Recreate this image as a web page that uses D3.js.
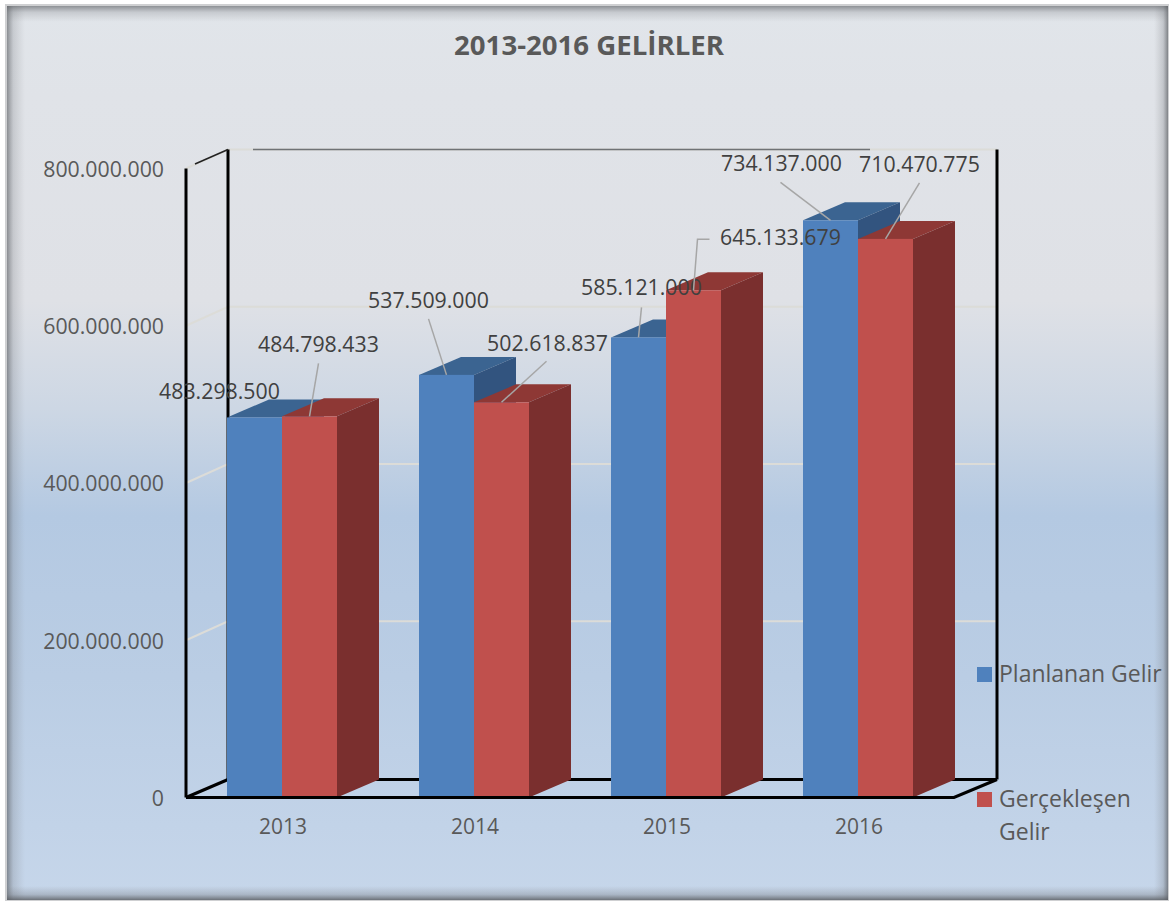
<!DOCTYPE html>
<html><head><meta charset="utf-8">
<script src="https://cdn.jsdelivr.net/npm/d3@7"></script>
<style>html,body{margin:0;padding:0;background:#fff}svg{display:block}text{font-family:"Open Sans",sans-serif}</style>
</head><body><div id="c"></div>
<script>
const title = "2013-2016 GELİRLER";
const years = ["2013","2014","2015","2016"];
const planned = [483298500,537509000,585121000,734137000];
const actual = [484798433,502618837,645133679,710470775];
const yTicks = [0,200000000,400000000,600000000,800000000];
const seriesNames = ["Planlanan Gelir","Gerçekleşen Gelir"];

const W=1171,H=902;
const plot={x0:186,x1:954,y0:797.5,y1:168.5,dx:42,dy:-18,barW:55};
const blue={front:"#4f81bd",top:"#3b6491",side:"#32547f"};
const red={front:"#c0504d",top:"#8e3835",side:"#7a2f2e"};
const svg=d3.select("#c").append("svg").attr("width",W).attr("height",H);
const defs=svg.append("defs");
function grad(id,x2,y2,stops){
  const g=defs.append("linearGradient").attr("id",id).attr("x1",0).attr("y1",0).attr("x2",x2).attr("y2",y2);
  stops.forEach(s=>g.append("stop").attr("offset",s[0]).attr("stop-color",s[1]).attr("stop-opacity",s[2]===undefined?1:s[2]));
}
grad("bg",0,1,[[0,"#e1e5ea"],[0.1,"#e0e3e8"],[0.33,"#dfe1e6"],[0.45,"#cdd7e4"],[0.57,"#b4c9e2"],[0.75,"#bacde4"],[1,"#c6d6ea"]]);
grad("edgeL",1,0,[[0,"#55585c",0.62],[0.35,"#6a6d72",0.22],[1,"#808080",0]]);
grad("edgeR",1,0,[[0,"#808080",0],[0.65,"#6a6d72",0.25],[1,"#55585c",0.7]]);
grad("edgeT",0,1,[[0,"#55585c",0.6],[0.4,"#6a6d72",0.22],[1,"#808080",0]]);
grad("edgeB",0,1,[[0,"#808080",0],[0.6,"#6a6d72",0.3],[1,"#55585c",0.8]]);

const F={l:7,t:6,r:1168,b:900};
svg.append("rect").attr("x",F.l-2).attr("y",F.t-2).attr("width",F.r-F.l+3).attr("height",F.b-F.t+3).attr("fill","#cfd0d2");
svg.append("rect").attr("x",F.l).attr("y",F.t).attr("width",F.r-F.l).attr("height",F.b-F.t).attr("fill","url(#bg)");
svg.append("rect").attr("x",F.l).attr("y",F.t).attr("width",18).attr("height",F.b-F.t).attr("fill","url(#edgeL)");
svg.append("rect").attr("x",F.r-14).attr("y",F.t).attr("width",14).attr("height",F.b-F.t).attr("fill","url(#edgeR)");
svg.append("rect").attr("x",F.l).attr("y",F.t).attr("width",F.r-F.l).attr("height",16).attr("fill","url(#edgeT)");
svg.append("rect").attr("x",F.l).attr("y",F.b-14).attr("width",F.r-F.l).attr("height",14).attr("fill","url(#edgeB)");

svg.append("text").attr("x",589).attr("y",55).attr("text-anchor","middle")
  .attr("font-size",27.6).attr("font-weight",700).attr("fill","#595959").text(title);

const y=d3.scaleLinear().domain([0,800000000]).range([plot.y0,plot.y1]);
const x=d3.scaleBand().domain(years).range([plot.x0,plot.x1]);
const sub=d3.scaleBand().domain([0,1]).range([0,plot.barW*2]);
const fmt=d3.formatLocale({decimal:",",thousands:".",grouping:[3],currency:["",""]}).format(",d");
const backX=plot.x0+plot.dx, backX1=plot.x1+plot.dx+1;

// gridlines on the walls
const grid=svg.append("g").attr("fill","none").attr("stroke","#dcdcd8").attr("stroke-width",2);
yTicks.slice(1).forEach(t=>{
  grid.append("polyline").attr("points",[[plot.x0,y(t)],[backX,y(t)+plot.dy-1],[backX1,y(t)+plot.dy-1]].join(" "));
});
// wall frame
const frame=svg.append("g").attr("fill","none").attr("stroke","#000");
const yB=y(0)+plot.dy, yT=y(800000000)+plot.dy-1;
frame.append("line").attr("x1",plot.x0).attr("x2",plot.x0).attr("y1",y(800000000)).attr("y2",y(0)).attr("stroke-width",3);
frame.append("line").attr("x1",backX).attr("x2",backX).attr("y1",yT).attr("y2",yB).attr("stroke-width",3);
frame.append("line").attr("x1",backX1).attr("x2",backX1).attr("y1",yT).attr("y2",yB).attr("stroke-width",3);
frame.append("line").attr("x1",backX).attr("x2",backX1).attr("y1",yB).attr("y2",yB).attr("stroke-width",3);
frame.append("line").attr("x1",253).attr("x2",870).attr("y1",yT).attr("y2",yT).attr("stroke","#6f7275").attr("stroke-width",1.5);
frame.append("line").attr("x1",195).attr("x2",backX).attr("y1",164).attr("y2",yT).attr("stroke","#222").attr("stroke-width",1.5);
frame.append("polyline").attr("points",[[plot.x0,y(0)],[backX,yB]].join(" ")).attr("stroke-width",3);
frame.append("polyline").attr("points",[[plot.x0,y(0)],[plot.x1,y(0)],[backX1,yB]].join(" ")).attr("stroke-width",3);

// bars
const barX=(i,s)=>x(years[i])+x.bandwidth()/2-plot.barW+sub(s);
function bar(g,bx,val,c){
  const t=y(val),b=y(0),w=plot.barW,dx=plot.dx,dy=plot.dy;
  g.append("polygon").attr("fill",c.top).attr("points",[[bx,t],[bx+dx,t+dy],[bx+w+dx,t+dy],[bx+w,t]].join(" "));
  g.append("polygon").attr("fill",c.side).attr("points",[[bx+w,t],[bx+w+dx,t+dy],[bx+w+dx,b+dy],[bx+w,b]].join(" "));
  g.append("rect").attr("x",bx).attr("y",t).attr("width",w).attr("height",b-t).attr("fill",c.front);
}
const bars=svg.append("g");
years.forEach((yr,i)=>{ bar(bars,barX(i,0),planned[i],blue); bar(bars,barX(i,1),actual[i],red); });
// bottom axis line over the bars
svg.append("line").attr("x1",plot.x0).attr("x2",plot.x1).attr("y1",y(0)).attr("y2",y(0)).attr("stroke","#000").attr("stroke-width",3);

// axes
const ay=svg.append("g").attr("transform",`translate(${plot.x0},1)`)
  .call(d3.axisLeft(y).tickValues(yTicks).tickFormat(fmt).tickSize(0).tickPadding(22));
ay.select(".domain").remove();
ay.selectAll("text").attr("font-size",21.3).attr("fill","#595959").style("font-family",'"Open Sans",sans-serif');
const ax=svg.append("g").attr("transform",`translate(1,${y(0)})`)
  .call(d3.axisBottom(x).tickSize(0).tickPadding(22));
ax.select(".domain").remove();
ax.selectAll("text").attr("font-size",21).attr("fill","#595959").style("font-family",'"Open Sans",sans-serif');

// data labels: [series, yearIndex] with layout offsets relative to the top centre of the bar
const labelLayout=[
 {s:0,i:0,lx:-35,ly:-26,leader:null},
 {s:1,i:0,lx:9,ly:-72,leader:[[0,0],[9,-53]]},
 {s:0,i:1,lx:-18,ly:-75,leader:[[0,0],[-18,-56]]},
 {s:1,i:1,lx:46,ly:-59,leader:[[0,0],[45,-41]]},
 {s:0,i:2,lx:3,ly:-50,leader:[[0,0],[3,-30]]},
 {s:1,i:2,lx:87,ly:-53,leader:[[0,0],[4,-51],[16,-51]]},
 {s:0,i:3,lx:-49,ly:-57,leader:[[0,0],[-50,-38]]},
 {s:1,i:3,lx:34,ly:-75,leader:[[0,0],[34,-56]]}
];
const lab=svg.append("g");
labelLayout.forEach(L=>{
  const v=(L.s?actual:planned)[L.i];
  const cx=barX(L.i,L.s)+plot.barW/2, cy=y(v);
  if(L.leader) lab.append("polyline").attr("fill","none").attr("stroke","#a6a6a6").attr("stroke-width",1.5)
    .attr("points",L.leader.map(p=>[cx+p[0],cy+p[1]]).join(" "));
  lab.append("text").attr("x",cx+L.lx).attr("y",cy+L.ly).attr("dy","0.36em").attr("text-anchor","middle")
    .attr("font-size",21.3).attr("fill","#404040").text(fmt(v));
});

// legend
const leg=svg.append("g");
leg.append("rect").attr("x",977).attr("y",667).attr("width",15).attr("height",15).attr("fill",blue.front);
leg.append("rect").attr("x",977).attr("y",792).attr("width",15).attr("height",15).attr("fill",red.front);
leg.append("text").attr("x",999).attr("y",682).attr("font-size",23).attr("fill","#595959").text(seriesNames[0]);
const parts=seriesNames[1].split(" ");
leg.append("text").attr("x",999).attr("y",807).attr("font-size",23).attr("fill","#595959").text(parts[0]);
leg.append("text").attr("x",999).attr("y",840).attr("font-size",23).attr("fill","#595959").text(parts[1]);
</script></body></html>
